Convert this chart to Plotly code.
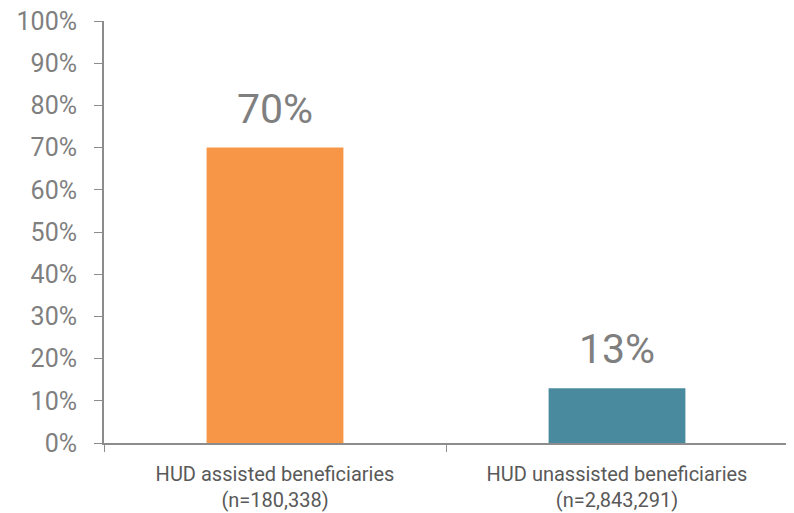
import plotly.graph_objects as go

categories = [
    "HUD assisted beneficiaries<br>(n=180,338)",
    "HUD unassisted beneficiaries<br>(n=2,843,291)",
]
values = [0.70, 0.13]
bar_colors = ["#F79646", "#4A8A9E"]
value_labels = ["70%", "13%"]

FONT = "Roboto"
AXIS_GRAY = "#8C8C8C"

fig = go.Figure(
    go.Bar(
        x=categories,
        y=values,
        marker=dict(color=bar_colors, line=dict(width=0)),
        width=0.4,
        hoverinfo="skip",
    )
)

# big value labels above each bar
for cat, val, lab in zip(categories, values, value_labels):
    fig.add_annotation(
        x=cat,
        y=val,
        text=lab,
        showarrow=False,
        yanchor="bottom",
        yshift=13,
        font=dict(family=FONT, size=41, color="#7F7F7F"),
    )

# page body has an 8px margin, so size the figure to fit the window
fig.update_layout(
    width=786,
    height=505,
    margin=dict(l=96, r=6, t=13, b=70),
    paper_bgcolor="white",
    plot_bgcolor="white",
    showlegend=False,
    xaxis=dict(
        automargin=False,
        showline=True,
        linecolor=AXIS_GRAY,
        linewidth=2,
        ticks="outside",
        tickson="boundaries",
        ticklen=7,
        tickcolor=AXIS_GRAY,
        tickwidth=1,
        ticklabelstandoff=12,
        ticklabeloverflow="allow",
        tickfont=dict(family=FONT, size=20, color="#595959"),
        showgrid=False,
    ),
    yaxis=dict(
        automargin=False,
        range=[0, 1],
        dtick=0.1,
        tickformat=".0%",
        showline=True,
        linecolor=AXIS_GRAY,
        linewidth=2,
        ticks="outside",
        ticklen=8,
        tickcolor=AXIS_GRAY,
        tickwidth=1,
        ticklabelstandoff=12,
        ticklabeloverflow="allow",
        tickfont=dict(family=FONT, size=25, color="#7F7F7F"),
        showgrid=False,
        zeroline=False,
    ),
)

fig.write_html("out.html")
